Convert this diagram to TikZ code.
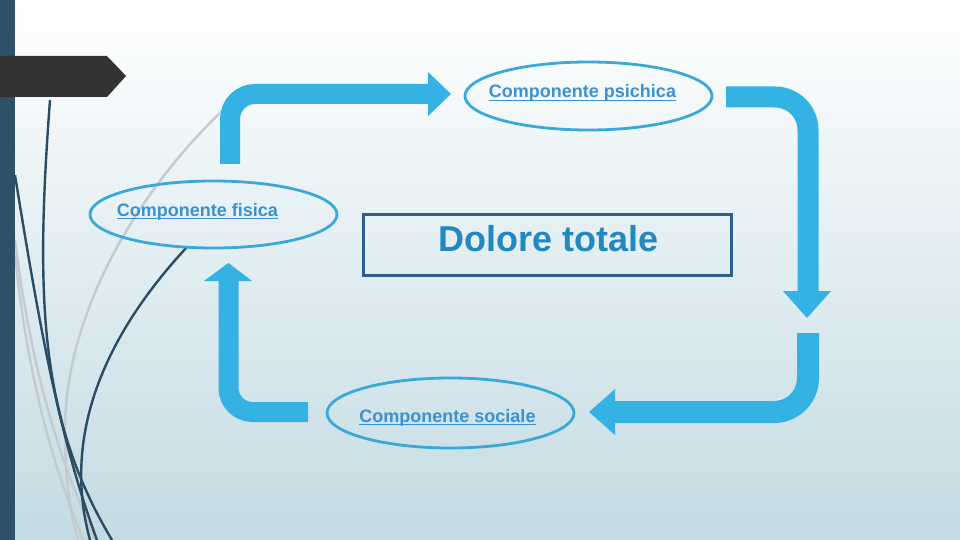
\documentclass[tikz,border=0pt]{standalone}
\usepackage{fontspec}
\setmainfont{Liberation Sans}
\usetikzlibrary{shapes.geometric}
\definecolor{arrowblue}{HTML}{34B2E4}
\definecolor{ellline}{HTML}{3AA9DA}
\definecolor{lbltext}{HTML}{3A91D4}
\definecolor{boxline}{HTML}{2C5F8E}
\definecolor{boxtext}{HTML}{2388BF}
\definecolor{barcol}{HTML}{2C5169}
\definecolor{tabcol}{HTML}{333333}
\definecolor{darkcurve}{HTML}{2B4C63}
\definecolor{graycurve}{HTML}{C3CBCF}
\definecolor{bgtop}{HTML}{FFFFFF}
\definecolor{bgmid}{HTML}{E3EEF2}
\definecolor{bgbot}{HTML}{C3DBE3}
\newcommand\myul[1]{\setbox0\hbox{#1}\rlap{\rule[-3pt]{\wd0}{1.4pt}}\box0}
\tikzset{
  shaft/.style={draw=arrowblue, line width=20pt},
  headtip/.style={fill=arrowblue},
  ell/.style={draw=ellline, line width=2.8pt, ellipse, inner sep=0pt},
  lbl/.style={text=lbltext, font=\fontsize{18}{21}\selectfont\bfseries, inner sep=0pt, anchor=base},
  dcurve/.style={draw=darkcurve, line width=2.4pt},
  gcurve/.style={draw=graycurve, line width=2.4pt},
}
\begin{document}
\begin{tikzpicture}[x=1pt,y=-1pt]
\useasboundingbox (0,0) rectangle (960,540);
% background
\shade[top color=bgtop, middle color=bgmid, bottom color=bgbot] (0,0) rectangle (960,540);
% decorative curves
\draw[gcurve] (220,113) .. controls (130,200) and (65,320) .. (65,430) .. controls (65,480) and (70,510) .. (78,540);
\draw[gcurve] (15,255) .. controls (30,400) and (60,480) .. (83,540);
\draw[gcurve] (15,240) .. controls (35,400) and (70,480) .. (95,540);
\draw[dcurve] (50,100) .. controls (35,300) and (40,420) .. (112,540);
\draw[dcurve] (15,175) .. controls (40,330) and (60,440) .. (97,540);
\draw[dcurve] (187,247) .. controls (110,330) and (60,430) .. (90,540);
% left bar and tab
\fill[barcol] (0,0) rectangle (15,540);
\fill[tabcol] (0,56) -- (107,56) -- (126,76) -- (107,97) -- (0,97) -- cycle;
% box
\node[draw=boxline, line width=3.5pt, minimum width=368pt, minimum height=61pt, inner sep=0pt] (box) at (547.5,245) {};
\node[text=boxtext, font=\fontsize{36}{40}\selectfont\bfseries, inner sep=0pt, anchor=base] (dolore) at (548.5,251) {Dolore totale};
% ellipses
\node[ell, minimum width=247pt, minimum height=68pt] (psi) at (588.5,96) {};
\node[ell, minimum width=247pt, minimum height=67pt] (fis) at (213.5,214.5) {};
\node[ell, minimum width=247pt, minimum height=70pt] (soc) at (450.5,413) {};
\node[lbl] (tpsi) at (582.5,98) {\myul{Componente psichica}};
\node[lbl] (tfis) at (197.5,216) {\myul{Componente fisica}};
\node[lbl] (tsoc) at (447.5,422) {\myul{Componente sociale}};
% arrow 1: fisica -> psichica
\coordinate (a1s) at (230,164);
\coordinate (a1c) at (230,94);
\coordinate (a1e) at (428,94);
\draw[shaft, rounded corners=25pt] (a1s) -- (a1c) -- (a1e);
\fill[headtip] (428,72) -- (451,94) -- (428,116) -- cycle;
% arrow 2: psichica -> down
\coordinate (a2s) at (726,97);
\coordinate (a2c) at (808,97);
\coordinate (a2e) at (808,291);
\draw[shaft, line width=21pt, rounded corners=33pt] (a2s) -- (a2c) -- (a2e);
\fill[headtip] (783,291) -- (831,291) -- (807,318) -- cycle;
% arrow 3: -> sociale
\coordinate (a3s) at (808,333);
\coordinate (a3c) at (808,412);
\coordinate (a3e) at (615,412);
\draw[shaft, line width=22pt, rounded corners=34pt] (a3s) -- (a3c) -- (a3e);
\fill[headtip] (615,389) -- (589,412) -- (615,435) -- cycle;
% arrow 4: sociale -> fisica
\coordinate (a4s) at (308,412);
\coordinate (a4c) at (228.5,412);
\coordinate (a4e) at (228.5,281);
\draw[shaft, line width=20pt, rounded corners=24pt] (a4s) -- (a4c) -- (a4e);
\fill[headtip] (204,281) -- (228.5,263) -- (252,281) -- cycle;
\end{tikzpicture}
\end{document}
